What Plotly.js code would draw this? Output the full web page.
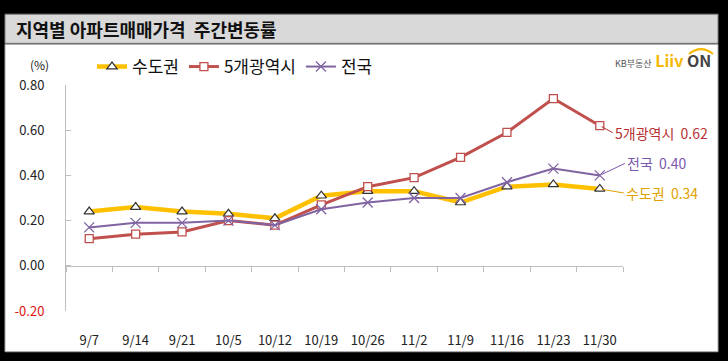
<!DOCTYPE html>
<html>
<head>
<meta charset="utf-8">
<script src="https://cdn.plot.ly/plotly-3.0.1.min.js"></script>
<style>
html,body{margin:0;padding:0;background:#000;}
#chart{width:728px;height:361px;}
</style>
</head>
<body>
<div id="chart"></div>
<script>
// ---- data ----
const weeks = ['9/7','9/14','9/21','10/5','10/12','10/19','10/26','11/2','11/9','11/16','11/23','11/30'];
const capitalArea = [0.24,0.26,0.24,0.23,0.21,0.31,0.33,0.33,0.28,0.35,0.36,0.34];
const fiveMetro   = [0.12,0.14,0.15,0.20,0.18,0.27,0.35,0.39,0.48,0.59,0.74,0.62];
const national    = [0.17,0.19,0.19,0.20,0.18,0.25,0.28,0.30,0.30,0.37,0.43,0.40];
const seriesNames = ['수도권','5개광역시','전국'];
const yTickVals = [-0.2,0,0.2,0.4,0.6,0.8];
const yTickText = ['<span style="color:#e01010">-0.20</span>','0.00','0.20','0.40','0.60','0.80'];
const titleText = '지역별 아파트매매가격\u00a0\u00a0주간변동률';

// ---- layout helpers ----
const W = 728, H = 361, ML = 66, MR = 105, MT = 78, MB = 50;
const PW = W - ML - MR, PH = H - MT - MB;
const px = v => (v - ML) / PW;
const py = v => (H - MB - v) / PH;
const FONT = '"Noto Sans CJK KR", "Noto Sans", sans-serif';

const colors = ['#FFC000', '#C0504D', '#8064A2'];
const labelColors = ['#E0A000', '#B83030', '#7A58AE'];

const traces = [
  {x: weeks, y: capitalArea, name: seriesNames[0], mode: 'lines+markers',
   line: {color: colors[0], width: 4.5},
   marker: {symbol: 'triangle-up', size: 9, color: '#ffffff', line: {color: '#333333', width: 1.2}}},
  {x: weeks, y: fiveMetro, name: seriesNames[1], mode: 'lines+markers',
   line: {color: colors[1], width: 3},
   marker: {symbol: 'square', size: 8, color: '#ffffff', line: {color: colors[1], width: 1.3}}},
  {x: weeks, y: national, name: seriesNames[2], mode: 'lines+markers',
   line: {color: colors[2], width: 2},
   marker: {symbol: 'x-thin-open', size: 10, color: colors[2], line: {color: colors[2], width: 1.3}}},
  {x: weeks, y: weeks.map(() => null), xaxis: 'x2', mode: 'lines', showlegend: false, hoverinfo: 'skip'}
];

const endSeries = [fiveMetro, national, capitalArea];
const endNames = [seriesNames[1], seriesNames[2], seriesNames[0]];
const endColors = [labelColors[1], labelColors[2], labelColors[0]];
const endOffsets = [[13, 7], [25, -12], [24, 4]];
const annotations = endSeries.map((s, i) => ({
  x: weeks[weeks.length - 1], y: s[s.length - 1], xref: 'x', yref: 'y',
  text: endNames[i] + '\u00a0\u00a0' + s[s.length - 1].toFixed(2),
  showarrow: true, arrowhead: 0, arrowwidth: 1, arrowcolor: endColors[i],
  ax: endOffsets[i][0], ay: endOffsets[i][1], xanchor: 'left', yanchor: 'middle',
  standoff: 2, font: {family: FONT, size: 14, color: endColors[i]}
}));
annotations.push({
  x: px(14), y: py(20), xref: 'paper', yref: 'paper', xanchor: 'left', yanchor: 'middle',
  text: '<b>' + titleText + '</b>', showarrow: false,
  font: {family: FONT, size: 18, color: '#111'}
});
annotations.push({
  x: px(28), y: py(57), xref: 'paper', yref: 'paper', xanchor: 'left', yanchor: 'middle',
  text: '(%)', showarrow: false, font: {family: FONT, size: 12, color: '#222'}
});
annotations.push({
  x: px(713), y: py(52), xref: 'paper', yref: 'paper', xanchor: 'right', yanchor: 'middle',
  text: '<span style="font-size:9px;color:#555">KB부동산</span>\u00a0<b><span style="color:#F5B800">Liiv</span>\u00a0<span style="color:#444">ON</span></b>',
  showarrow: false, font: {family: FONT, size: 16, color: '#444'}
});

const shapes = [
  {type: 'rect', xref: 'paper', yref: 'paper', layer: 'below',
   x0: px(5), x1: px(718), y0: py(353), y1: py(36),
   fillcolor: '#ffffff', line: {color: '#a6a6a6', width: 1}},
  {type: 'rect', xref: 'paper', yref: 'paper', layer: 'below',
   x0: px(5), x1: px(718), y0: py(35), y1: py(5),
   fillcolor: '#d9d9d9', line: {color: '#808080', width: 1}},
  {type: 'path', xref: 'paper', yref: 'paper', layer: 'above',
   path: 'M' + px(689) + ',' + py(46) + ' Q' + px(701) + ',' + py(36) + ' ' + px(713) + ',' + py(46),
   line: {color: '#F5B800', width: 2}}
];

const layout = {
  width: W, height: H,
  margin: {l: ML, r: MR, t: MT, b: MB, pad: 0},
  paper_bgcolor: '#000000', plot_bgcolor: 'rgba(0,0,0,0)',
  font: {family: FONT, color: '#222'},
  showlegend: true,
  legend: {orientation: 'h', xref: 'container', yref: 'container',
           x: 92 / W, xanchor: 'left', y: 1 - 67 / H, yanchor: 'middle',
           bgcolor: 'rgba(0,0,0,0)', font: {family: FONT, size: 17, color: '#111'},
           itemwidth: 30, traceorder: 'normal'},
  xaxis: {type: 'category', range: [-0.5, 11.5], showline: false, showgrid: false, zeroline: false,
          ticks: '', ticklabelstandoff: 20, tickfont: {family: FONT, size: 13, color: '#222'}},
  xaxis2: {type: 'category', overlaying: 'x', anchor: 'free', position: py(265), side: 'bottom',
           range: [-0.5, 11.5], showline: true, linecolor: '#bfbfbf', linewidth: 1,
           ticks: 'outside', tickson: 'boundaries', ticklen: 5, tickcolor: '#bfbfbf',
           showticklabels: false, showgrid: false, zeroline: false},
  yaxis: {range: [-0.2, 0.8], tickvals: yTickVals, ticktext: yTickText,
          showline: true, linecolor: '#bfbfbf', linewidth: 1, ticks: 'inside', ticklen: 5,
          tickcolor: '#bfbfbf', showgrid: false, zeroline: false, ticklabelstandoff: 18,
          tickfont: {family: FONT, size: 13, color: '#222'}},
  shapes: shapes,
  annotations: annotations
};

Plotly.newPlot('chart', traces, layout, {displayModeBar: false, staticPlot: true});
</script>
</body>
</html>
